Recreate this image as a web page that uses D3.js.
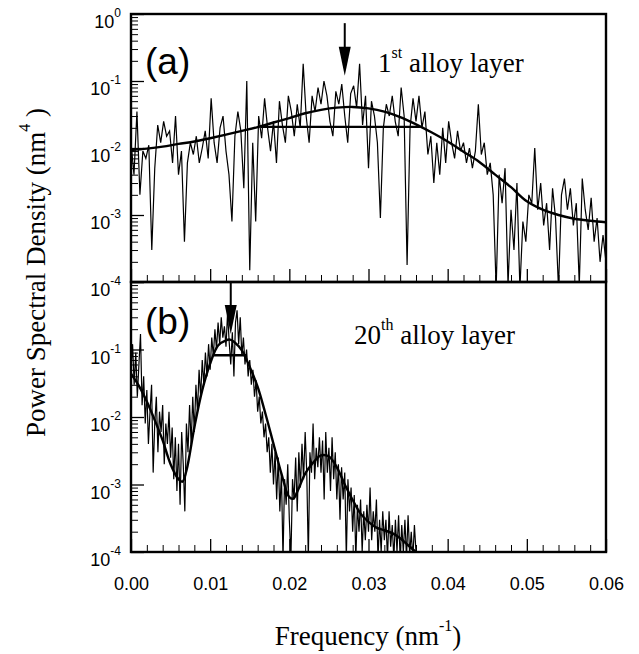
<!DOCTYPE html>
<html>
<head>
<meta charset="UTF-8">
<script src="https://cdn.jsdelivr.net/npm/d3@7"></script>
<style>
body { margin: 0; background: #fff; }
svg { display: block; }
</style>
</head>
<body>
<svg id="chart" width="639" height="654"></svg>
<script>
// sample spacing of the two spectra (nm^-1)
const stepA = 0.000375;
const stepB = 0.0002;

// (a) 1st alloy layer - measured PSD (nm^4)
const psdA = [
  0.012, 0.004, 0.035, 0.002, 0.009, 0.007, 0.011, 0.0003, 0.005, 0.022,
  0.012, 0.025, 0.015, 0.018, 0.006, 0.030, 0.004, 0.009, 0.0004, 0.006,
  0.012, 0.008, 0.015, 0.006, 0.010, 0.018, 0.007, 0.055, 0.012, 0.006,
  0.020, 0.030, 0.009, 0.004, 0.0008, 0.015, 0.035, 0.018, 0.0025, 0.10,
  0.00015, 0.012, 0.0008, 0.030, 0.014, 0.055, 0.020, 0.009, 0.025, 0.006,
  0.050, 0.022, 0.012, 0.060, 0.035, 0.015, 0.045, 0.020, 0.18, 0.030,
  0.012, 0.060, 0.035, 0.080, 0.045, 0.10, 0.060, 0.025, 0.015, 0.070,
  0.045, 0.090, 0.030, 0.012, 0.065, 0.085, 0.040, 0.18, 0.022, 0.060,
  0.005, 0.050, 0.030, 0.012, 0.0009, 0.020, 0.045, 0.030, 0.060, 0.025,
  0.015, 0.080, 0.030, 0.00018, 0.020, 0.055, 0.025, 0.060, 0.020, 0.035,
  0.008, 0.015, 0.003, 0.012, 0.004, 0.020, 0.006, 0.025, 0.012, 0.007,
  0.018, 0.009, 0.012, 0.006, 0.010, 0.005, 0.009, 0.045, 0.008, 0.012,
  0.004, 0.006, 0.002, 0.00008, 0.004, 0.0015, 0.005, 0.00009, 0.0012, 0.0003,
  0.003, 0.00008, 0.0008, 0.0004, 0.002, 0.0015, 0.010, 0.0012, 0.003, 0.0007,
  0.0015, 0.0003, 0.0025, 0.0009, 0.00008, 0.002, 0.0035, 0.0012, 0.0025, 0.0007,
  0.0015, 0.00009, 0.0035, 0.0012, 0.0006, 0.0018, 0.0004, 0.0009, 0.0002, 0.0005,
  0.0002
];
// (a) fitted curve
const fitFreqA = [0, 0.002, 0.004, 0.006, 0.008, 0.010, 0.012, 0.014, 0.016, 0.018,
  0.020, 0.022, 0.024, 0.026, 0.028, 0.030, 0.032, 0.034, 0.036, 0.038,
  0.040, 0.042, 0.044, 0.046, 0.048, 0.050, 0.052, 0.054, 0.056, 0.058, 0.060];
const fitA = [0.0093, 0.0098, 0.0105, 0.0115, 0.0125, 0.014, 0.0158, 0.018, 0.0205, 0.024,
  0.028, 0.033, 0.037, 0.040, 0.041, 0.039, 0.035, 0.029, 0.0225, 0.017,
  0.0125, 0.0088, 0.0062, 0.0040, 0.0026, 0.0016, 0.0012, 0.0010, 0.00088, 0.00082, 0.00078];
const fwhmA = [0.0164, 0.0365];
const fwhmLevelA = 0.0207;
const peakA = 0.027;

// (b) 20th alloy layer - measured PSD (nm^4)
const psdB = [
  0.05, 0.12, 0.03, 0.09, 0.02, 0.06, 0.17, 0.015, 0.04, 0.008,
  0.025, 0.004, 0.012, 0.03, 0.0015, 0.008, 0.02, 0.003, 0.012, 0.006,
  0.015, 0.002, 0.008, 0.004, 0.012, 0.0025, 0.007, 0.0012, 0.005, 0.0008,
  0.004, 0.0005, 0.006, 0.002, 0.0004, 0.008, 0.003, 0.015, 0.004, 0.02,
  0.006, 0.03, 0.012, 0.05, 0.02, 0.07, 0.03, 0.09, 0.04, 0.12,
  0.05, 0.15, 0.08, 0.2, 0.1, 0.25, 0.12, 0.3, 0.15, 0.22,
  0.11, 0.35, 0.13, 0.06, 0.18, 0.04, 0.25, 0.38, 0.12, 0.3,
  0.08, 0.15, 0.06, 0.1, 0.04, 0.07, 0.03, 0.05, 0.02, 0.035,
  0.012, 0.02, 0.008, 0.012, 0.005, 0.008, 0.003, 0.005, 0.0015, 0.004,
  0.001, 0.003, 0.0006, 0.0025, 0.0004, 0.0015, 0.00008, 0.0012, 0.0005, 0.002,
  0.0003, 0.00008, 0.0012, 0.0006, 0.0025, 0.0004, 0.003, 0.0009, 0.004, 0.0012,
  0.006, 0.0015, 0.00008, 0.003, 0.0015, 0.008, 0.0012, 0.0035, 0.0018, 0.005,
  0.0015, 0.0045, 0.0006, 0.006, 0.0015, 0.0035, 0.0008, 0.005, 0.0012, 0.003,
  0.0006, 0.002, 0.0003, 0.0018, 0.0006, 0.0015, 0.00008, 0.0012, 0.0004, 0.0009,
  0.0002, 0.0007, 0.00008, 0.0005, 0.0002, 0.0006, 0.0001, 0.0004, 0.00015, 0.0005,
  0.0002, 0.0009, 0.00015, 0.0004, 0.0002, 0.0006, 0.00008, 0.0003, 0.0001, 0.0004,
  0.00015, 0.0003, 0.00008, 0.0004, 0.00012, 0.00025, 0.00008, 0.0003, 0.0001, 0.00035,
  0.00008, 0.00025, 0.0001, 0.0003, 0.00008, 0.00035, 0.00009, 0.0002, 0.00008, 0.00025,
  0.0001
];
// (b) fitted curve
const fitFreqB = [0, 0.001, 0.002, 0.003, 0.004, 0.005, 0.006, 0.0065, 0.007, 0.008,
  0.009, 0.010, 0.011, 0.012, 0.0125, 0.013, 0.014, 0.015, 0.016, 0.017,
  0.018, 0.019, 0.020, 0.0205, 0.021, 0.022, 0.023, 0.024, 0.025, 0.026,
  0.027, 0.028, 0.029, 0.030, 0.031, 0.032, 0.033, 0.034, 0.035, 0.036];
const fitB = [0.044, 0.029, 0.017, 0.009, 0.0045, 0.002, 0.0012, 0.0011, 0.0016, 0.007,
  0.025, 0.062, 0.115, 0.137, 0.14, 0.13, 0.097, 0.055, 0.028, 0.011,
  0.004, 0.00145, 0.00065, 0.00062, 0.00078, 0.00145, 0.0021, 0.0027, 0.0026, 0.0018,
  0.001, 0.00059, 0.00037, 0.00028, 0.00023, 0.00021, 0.00019, 0.00016, 0.000126, 0.0001];
const fwhmB = [0.0104, 0.0146];
const fwhmLevelB = 0.082;
const peakB = 0.0126;

// axes
const xTickValues = [0, 0.01, 0.02, 0.03, 0.04, 0.05, 0.06];
const yExpA = [0, -1, -2, -3, -4];
const yExpB = [-1, -2, -3, -4];

const svg = d3.select("#chart");
const left = 131, right = 606;
const serif = "'Liberation Serif', 'Times New Roman', serif";
const sans = "'Liberation Sans', Arial, sans-serif";

const x = d3.scaleLinear().domain([0, 0.06]).range([left, right]);

function drawPanel(id, top, bottom, psd, step, fitX, fitY, fwhm, fwhmLevel, peak, arrow, exps) {
  const y = d3.scaleLog().domain([1e-4, 1]).range([bottom, top]);
  const g = svg.append("g");

  g.append("clipPath").attr("id", "clip" + id)
    .append("rect").attr("x", left).attr("y", top)
    .attr("width", right - left).attr("height", bottom - top);

  // x ticks (pointing inwards)
  const minorX = d3.range(0, 0.0601, 0.002).filter(v => Math.abs(v * 100 - Math.round(v * 100)) > 1e-6);
  g.append("g").attr("transform", `translate(0,${bottom})`)
    .call(d3.axisBottom(x).tickValues(minorX).tickSize(-7).tickFormat(""))
    .call(a => a.select(".domain").remove());
  const xa = g.append("g").attr("transform", `translate(0,${bottom})`)
    .call(d3.axisBottom(x).tickValues(xTickValues).tickSize(-13).tickPadding(25)
      .tickFormat(id === "b" ? d3.format(".2f") : ""));
  xa.select(".domain").remove();
  xa.selectAll("text").style("font-family", sans).style("font-size", "18px").attr("fill", "#000");
  xa.selectAll("line").attr("stroke-width", 1.3);

  // y ticks (log, pointing inwards)
  const minorY = [];
  for (let k = -4; k < 0; k++) for (let m = 2; m <= 9; m++) minorY.push(m * Math.pow(10, k));
  g.append("g").attr("transform", `translate(${left},0)`)
    .call(d3.axisLeft(y).tickValues(minorY).tickSize(-7).tickFormat(""))
    .call(a => a.select(".domain").remove());
  g.append("g").attr("transform", `translate(${left},0)`)
    .call(d3.axisLeft(y).tickValues([1e-4, 1e-3, 1e-2, 1e-1, 1]).tickSize(-13).tickFormat(""))
    .call(a => a.select(".domain").remove())
    .call(a => a.selectAll("line").attr("stroke-width", 1.3));

  g.selectAll(".ylab").data(exps).join("text")
    .attr("x", left - 10).attr("y", d => y(Math.pow(10, d)) + 14)
    .attr("text-anchor", "end")
    .style("font-family", sans).style("font-size", "18px")
    .each(function (d) {
      const t = d3.select(this);
      t.append("tspan").text("10");
      t.append("tspan").attr("dy", -11).style("font-size", "12px").text(d === 0 ? "0" : "-" + (-d));
    });

  // measured spectrum
  const line = d3.line().x((d, i) => x(i * step)).y(d => y(d));
  g.append("path").datum(psd)
    .attr("clip-path", `url(#clip${id})`)
    .attr("d", line).attr("fill", "none").attr("stroke", "#000").attr("stroke-width", 1.2);

  // fitted curve
  const fitLine = d3.line().x(d => x(d[0])).y(d => y(d[1])).curve(d3.curveCatmullRom);
  g.append("path").datum(fitX.map((f, i) => [f, fitY[i]]))
    .attr("clip-path", `url(#clip${id})`)
    .attr("d", fitLine).attr("fill", "none").attr("stroke", "#000").attr("stroke-width", 2.4);

  // FWHM bar
  g.append("line")
    .attr("x1", x(fwhm[0])).attr("x2", x(fwhm[1]))
    .attr("y1", y(fwhmLevel)).attr("y2", y(fwhmLevel))
    .attr("stroke", "#000").attr("stroke-width", 2.4);

  // peak arrow
  const ax = x(peak), tip = y(arrow[1]), tail = y(arrow[0]);
  g.append("line").attr("x1", ax).attr("x2", ax).attr("y1", tail).attr("y2", tip - 20)
    .attr("stroke", "#000").attr("stroke-width", 2);
  g.append("path").attr("d", `M${ax - 6},${tip - 29}L${ax + 6},${tip - 29}L${ax},${tip}Z`)
    .attr("fill", "#000");

  // frame
  g.append("rect").attr("x", left).attr("y", top)
    .attr("width", right - left).attr("height", bottom - top)
    .attr("fill", "none").attr("stroke", "#000").attr("stroke-width", 2.4);
  return g;
}

const ga = drawPanel("a", 14, 282, psdA, stepA, fitFreqA, fitA, fwhmA, fwhmLevelA, peakA, [0.73, 0.12], yExpA);
const gb = drawPanel("b", 282, 552, psdB, stepB, fitFreqB, fitB, fwhmB, fwhmLevelB, peakB, [1, 0.17], yExpB);

// panel labels
svg.append("text").attr("x", 145).attr("y", 74).style("font-family", sans).style("font-size", "37px").text("(a)");
svg.append("text").attr("x", 145).attr("y", 334).style("font-family", sans).style("font-size", "37px").text("(b)");

const la = svg.append("text").attr("x", 378).attr("y", 72).style("font-family", serif).style("font-size", "27px");
la.append("tspan").text("1");
la.append("tspan").attr("dy", -14).style("font-size", "16px").text("st");
la.append("tspan").attr("dy", 14).text(" alloy layer");

const lb = svg.append("text").attr("x", 354).attr("y", 344).style("font-family", serif).style("font-size", "27px");
lb.append("tspan").text("20");
lb.append("tspan").attr("dy", -14).style("font-size", "16px").text("th");
lb.append("tspan").attr("dy", 14).text(" alloy layer");

// axis titles
const xt = svg.append("text").attr("x", 368).attr("y", 645).attr("text-anchor", "middle")
  .style("font-family", serif).style("font-size", "27px");
xt.append("tspan").text("Frequency (nm");
xt.append("tspan").attr("dy", -14).style("font-size", "16px").text("-1");
xt.append("tspan").attr("dy", 14).text(")");

const yt = svg.append("text").attr("transform", "translate(45,437) rotate(-90)")
  .style("font-family", serif).style("font-size", "27px");
yt.append("tspan").text("Power Spectral Density (nm");
yt.append("tspan").attr("dy", -15).style("font-size", "16px").text("4");
yt.append("tspan").attr("dy", 15).text(" )");
</script>
</body>
</html>
